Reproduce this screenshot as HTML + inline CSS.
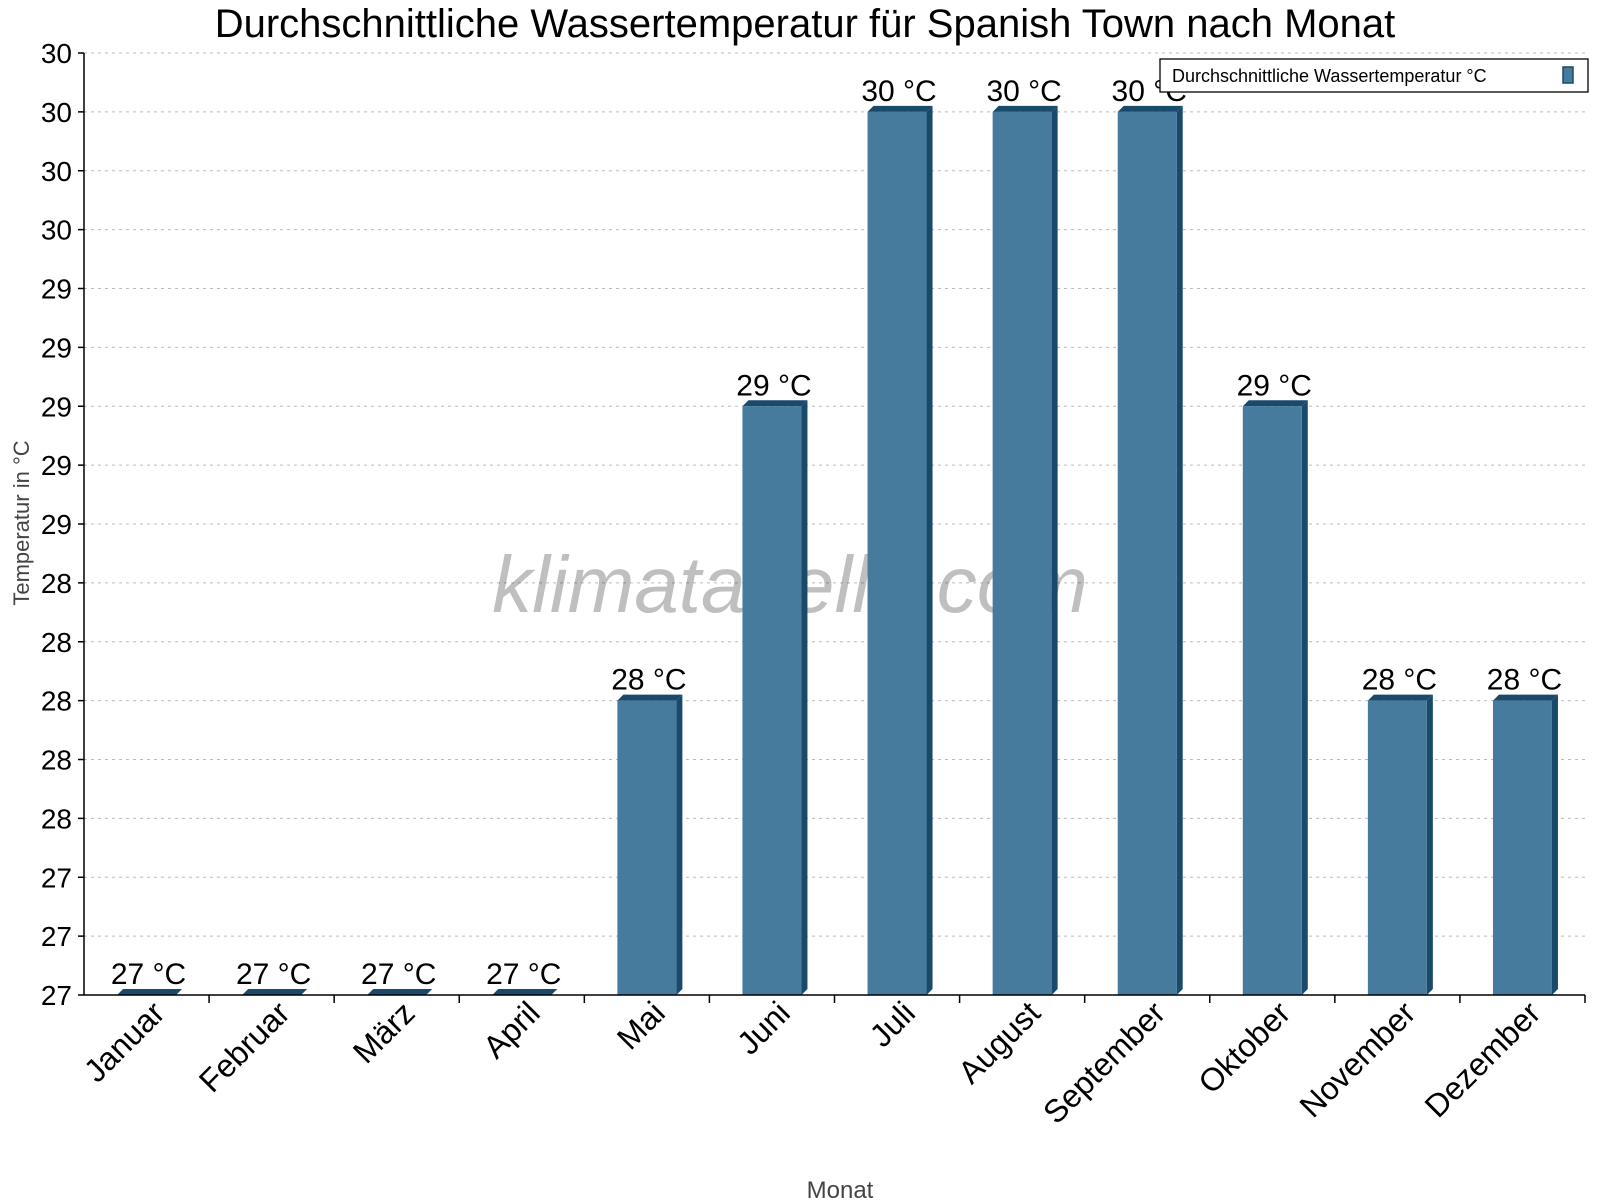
<!DOCTYPE html>
<html><head><meta charset="utf-8"><style>
body{margin:0;background:#fff;}
svg{display:block;font-family:"Liberation Sans",Arial,sans-serif;}
</style></head><body>
<svg id="chart" width="1600" height="1200" viewBox="0 0 1600 1200">
<text x="805" y="37" font-size="40" text-anchor="middle">Durchschnittliche Wassertemperatur für Spanish Town nach Monat</text>
<g id="grid"></g>
<text x="790" y="612" font-size="80" font-style="italic" fill="#000" fill-opacity="0.25" text-anchor="middle">klimatabelle.com</text>
<g id="bars"></g>
<g id="axes"></g>
<text transform="translate(29,523) rotate(-90)" font-size="22" fill="#444" text-anchor="middle">Temperatur in °C</text>
<text x="840" y="1198" font-size="24" fill="#444" text-anchor="middle">Monat</text>
<g>
<rect x="1160" y="59" width="428" height="33" fill="#fff" stroke="#000" stroke-width="1.3"/>
<text x="1172" y="82" font-size="18">Durchschnittliche Wassertemperatur °C</text>
<rect x="1563" y="67" width="10" height="16" fill="#467b9d" stroke="#1a4a6b" stroke-width="1.5"/>
</g>
</svg>
<script>
const categories=["Januar","Februar","März","April","Mai","Juni","Juli","August","September","Oktober","November","Dezember"];
const values=[27,27,27,27,28,29,30,30,30,29,28,28];
const valueLabels=["27 °C","27 °C","27 °C","27 °C","28 °C","29 °C","30 °C","30 °C","30 °C","29 °C","28 °C","28 °C"];
const yTicks=[27.0,27.2,27.4,27.6,27.8,28.0,28.2,28.4,28.6,28.8,29.0,29.2,29.4,29.6,29.8,30.0,30.2];
const NS="http://www.w3.org/2000/svg";
const L=84,R=1585,T=53,B=995,yMin=27.0,yMax=30.2;
const bw=(R-L)/categories.length;
function y(v){return B-(v-yMin)/(yMax-yMin)*(B-T);}
function xc(i){return L+bw*(i+0.5);}
function mk(tag,attrs,parent){const e=document.createElementNS(NS,tag);for(const k in attrs)e.setAttribute(k,attrs[k]);parent.appendChild(e);return e;}
const grid=document.getElementById('grid'),bars=document.getElementById('bars'),axes=document.getElementById('axes');
yTicks.forEach((t,i)=>{
  const yy=y(t);
  if(i>0){const g=mk('line',{x1:L,x2:R,y1:yy,y2:yy,stroke:'#bbb','stroke-dasharray':'3,4'},grid);
  
  }
  const tk=mk('line',{x1:L-6,x2:L,y1:yy,y2:yy,stroke:'#000','stroke-width':1.5},axes);
  
  
  const lb=mk('text',{x:L-12,y:yy+10,'font-size':28,'text-anchor':'end'},axes);
  lb.textContent=Math.round(t);
  
  
});
const fw=59,d=6;
values.forEach((v,i)=>{
  const x0=xc(i)-fw/2,top=y(v);
  const g=mk('g',{},bars);
  
  
  mk('polygon',{points:`${x0},${top} ${x0+d},${top-d} ${x0+fw+d},${top-d} ${x0+fw},${top}`,fill:'#1a4a6b'},g);
  mk('polygon',{points:`${x0+fw},${top} ${x0+fw+d},${top-d} ${x0+fw+d},${B-d} ${x0+fw},${B}`,fill:'#1a4a6b'},g);
  if(B-top>0)mk('rect',{x:x0,y:top,width:fw,height:B-top,fill:'#467b9d'},g);
  const t=mk('text',{x:xc(i)+2,y:top-d-5,'font-size':30,'text-anchor':'middle'},bars);
  t.textContent=valueLabels[i];
  
  
  const tk=mk('line',{x1:L+bw*(i+1),x2:L+bw*(i+1),y1:B,y2:B+8,stroke:'#000','stroke-width':1.5},axes);
  
  
  const xl=mk('text',{transform:`translate(${xc(i)+20},${B+20}) rotate(-45)`,'font-size':32,'text-anchor':'end'},axes);
  xl.textContent=categories[i];
  
  
});
const ya=mk('line',{x1:L,x2:L,y1:T,y2:B,stroke:'#000','stroke-width':1.5},axes);


const xa=mk('line',{x1:L,x2:R,y1:B,y2:B,stroke:'#000','stroke-width':1.5},axes);


</script>
</body></html>
